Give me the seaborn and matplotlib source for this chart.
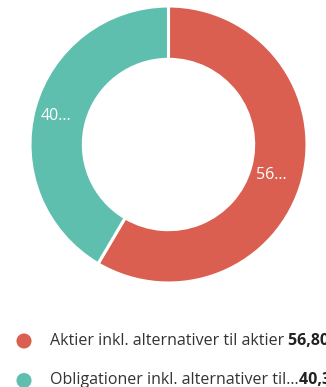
import numpy as np
import matplotlib
matplotlib.use("Agg")
import matplotlib.pyplot as plt
import seaborn as sns

# Portfolio allocation shown as a donut
categories = ["Aktier inkl. alternativer til aktier", "Obligationer inkl. alternativer til\u2026"]
values = [56.80, 40.30]
value_labels = ["56,80 %", "40,30 %"]
slice_labels = ["56\u2026", "40\u2026"]
colors = ["#DA5F50", "#5FBFAE"]

sns.set_theme(style="white")
plt.rcParams["font.family"] = ["Open Sans", "DejaVu Sans"]

W, H = 326, 387
fig = plt.figure(figsize=(W / 100, H / 100), dpi=100)
fig.patch.set_facecolor("white")

# donut geometry (pixels)
cx, cy, R = 168.5, 144.5, 138.5
ax = fig.add_axes([(cx - R) / W, (H - cy - R) / H, 2 * R / W, 2 * R / H])
ring = 0.385
wedges, _ = ax.pie(
    values,
    colors=colors,
    startangle=90,
    counterclock=False,
    radius=1.0,
    wedgeprops=dict(width=ring, edgecolor="white", linewidth=2.2),
)
ax.set_xlim(-1, 1)
ax.set_ylim(-1, 1)
ax.set_aspect("equal")
ax.axis("off")

# value labels inside the ring
label_r = 1 - ring / 2
for w, txt in zip(wedges, slice_labels):
    mid = np.deg2rad((w.theta1 + w.theta2) / 2)
    ax.annotate(txt, (label_r * np.cos(mid), label_r * np.sin(mid)),
                xytext=(-3.5, -0.5), textcoords="offset points",
                ha="center", va="center", color="white", fontsize=11.5)

# legend drawn in pixel coordinates
lax = fig.add_axes([0, 0, 1, 1])
lax.set_xlim(0, W)
lax.set_ylim(H, 0)
lax.axis("off")
lax.patch.set_alpha(0)

rows_y = [341, 380.5]
fig.canvas.draw()
renderer = fig.canvas.get_renderer()
for y, cat, val, col in zip(rows_y, categories, value_labels, colors):
    lax.scatter([24], [y], s=118, color=col, edgecolor="none", clip_on=False)
    sep = "" if cat.endswith("\u2026") else " "
    t = lax.text(50, y, cat + sep, ha="left", va="center", fontsize=11.5,
                 color="#333333", clip_on=False)
    bb = t.get_window_extent(renderer=renderer)
    lax.text(bb.x1, y, val, ha="left", va="center", fontsize=11.5,
             fontweight="bold", color="#222222", clip_on=False)

fig.savefig("out.png", dpi=100, facecolor="white")
